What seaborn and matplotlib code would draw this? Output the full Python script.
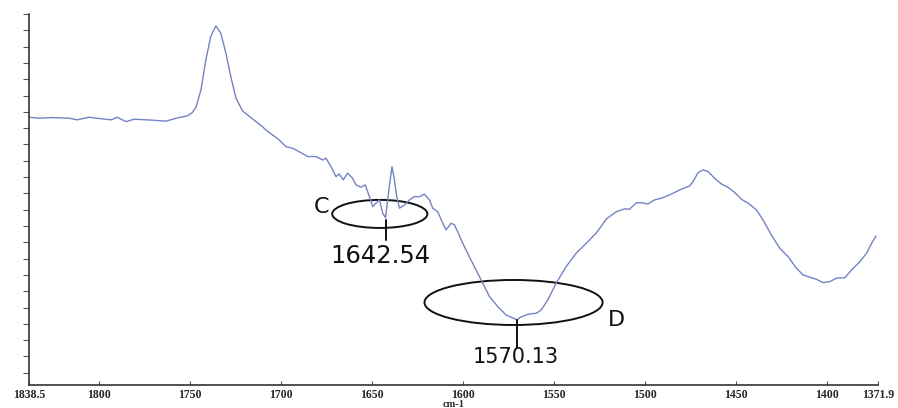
import numpy as np
import pandas as pd
import matplotlib
matplotlib.use("Agg")
import matplotlib.pyplot as plt
from matplotlib.patches import Ellipse
from matplotlib.ticker import MultipleLocator, FixedLocator
import seaborn as sns

# IR spectrum, wavenumber (cm-1) vs. relative transmittance (arbitrary units)
wavenumber = [
    1838.5, 1833.0, 1825.9, 1816.5, 1812.1, 1805.5, 1798.3, 1793.4, 1790.1, 1785.1,
    1780.7, 1770.8, 1763.1, 1757.6, 1751.6, 1748.8, 1746.6, 1744.0, 1741.3, 1738.6,
    1735.8, 1733.1, 1730.3, 1727.6, 1724.8, 1721.2, 1715.7, 1710.3, 1708.3, 1701.0,
    1697.3, 1693.7, 1689.1, 1685.4, 1680.8, 1677.1, 1675.3, 1672.5, 1669.8, 1668.0,
    1665.8, 1663.4, 1660.7, 1658.8, 1656.1, 1653.7, 1651.4, 1649.6, 1647.8, 1645.9,
    1644.1, 1642.54, 1641.4, 1640.0, 1639.0, 1637.7, 1636.4, 1634.9, 1632.2, 1629.4,
    1626.7, 1623.9, 1621.2, 1618.4, 1616.6, 1613.9, 1611.1, 1609.3, 1606.5, 1604.7,
    1602.9, 1600.1, 1596.5, 1592.8, 1589.1, 1585.4, 1580.8, 1576.3, 1570.13, 1568.9,
    1564.3, 1559.7, 1557.0, 1553.4, 1548.8, 1543.3, 1537.8, 1532.3, 1526.8, 1521.2,
    1515.7, 1511.1, 1508.4, 1504.7, 1502.0, 1498.4, 1494.7, 1491.0, 1486.4, 1480.9,
    1475.4, 1473.6, 1470.8, 1468.1, 1465.4, 1461.7, 1458.0, 1454.4, 1450.6, 1447.0,
    1443.3, 1438.7, 1435.1, 1430.5, 1425.9, 1421.3, 1416.7, 1413.1, 1409.4, 1405.7,
    1402.1, 1398.4, 1394.7, 1390.1, 1386.4, 1381.9, 1378.2, 1375.4, 1373.0,
]
transmittance = [
    15.67, 15.61, 15.65, 15.61, 15.51, 15.67, 15.57, 15.51, 15.67, 15.40,
    15.55, 15.49, 15.43, 15.61, 15.75, 15.94, 16.32, 17.35, 19.19, 20.62,
    21.27, 20.83, 19.60, 18.16, 16.86, 16.06, 15.57, 15.10, 14.89, 14.28,
    13.87, 13.77, 13.50, 13.26, 13.26, 13.05, 13.16, 12.64, 12.03, 12.19,
    11.83, 12.24, 11.93, 11.52, 11.38, 11.52, 10.80, 10.19, 10.40, 10.60,
    9.78, 9.50, 10.60, 11.83, 12.64, 11.83, 10.80, 10.09, 10.29, 10.60,
    10.80, 10.80, 10.95, 10.60, 10.09, 9.88, 9.17, 8.76, 9.17, 9.07,
    8.65, 7.94, 7.12, 6.31, 5.49, 4.67, 4.05, 3.54, 3.24, 3.38,
    3.59, 3.65, 3.85, 4.46, 5.49, 6.51, 7.33, 7.94, 8.56, 9.43,
    9.88, 10.05, 10.03, 10.43, 10.43, 10.35, 10.60, 10.70, 10.91, 11.21,
    11.46, 11.72, 12.27, 12.44, 12.34, 11.93, 11.58, 11.38, 11.05, 10.64,
    10.40, 9.99, 9.37, 8.45, 7.64, 7.12, 6.41, 6.00, 5.86, 5.73,
    5.53, 5.59, 5.80, 5.83, 6.31, 6.81, 7.33, 7.94, 8.39,
]

x_ticks = [1838.5, 1800, 1750, 1700, 1650, 1600, 1550, 1500, 1450, 1400, 1371.9]
x_tick_labels = ["1838.5", "1800", "1750", "1700", "1650", "1600",
                 "1550", "1500", "1450", "1400", "1371.9"]

peak_c = 1642.54
peak_d = 1570.13

sns.set_style("white")
plt.rcParams["font.family"] = ["DejaVu Sans"]

fig = plt.figure(figsize=(8.98, 4.08), dpi=100)
ax = fig.add_axes([29 / 898, 23 / 408, 849 / 898, 371 / 408])

df = pd.DataFrame({"wavenumber": wavenumber, "T": transmittance})
sns.lineplot(data=df, x="wavenumber", y="T", sort=False, ax=ax,
             color="#7482c6", linewidth=1.0)

ax.set_xlim(1838.5, 1371.9)
ax.set_ylim(-0.75, 22)

# axis styling
for s in ("top", "right"):
    ax.spines[s].set_visible(False)
for s in ("left", "bottom"):
    ax.spines[s].set_color("#333333")
    ax.spines[s].set_linewidth(1.2)

ax.xaxis.set_major_locator(FixedLocator(x_ticks))
ax.set_xticklabels(x_tick_labels, fontfamily="Liberation Serif",
                   fontweight="bold", fontsize=8.5)
ax.tick_params(axis="x", direction="in", length=3, width=0.8,
               color="#555555", pad=3, bottom=True)
ax.yaxis.set_major_locator(MultipleLocator(1))
ax.set_yticklabels([])
ax.tick_params(axis="y", direction="out", length=4, width=0.8,
               color="#555555", left=True)
ax.set_xlabel("cm-1", fontfamily="Liberation Serif", fontweight="bold",
              fontsize=7.5, labelpad=-1)
ax.set_ylabel("")

# peak markers
ell_c = Ellipse((1645.7, 9.74), 52.3, 1.72, fill=False,
                edgecolor="#111111", linewidth=1.4)
ell_d = Ellipse((1572.2, 4.31), 97.9, 2.76, fill=False,
                edgecolor="#111111", linewidth=1.4)
ax.add_patch(ell_c)
ax.add_patch(ell_d)

ax.plot([peak_c, peak_c], [9.37, 8.15], color="#111111", linewidth=1.4)
ax.plot([peak_d, peak_d], [3.24, 1.52], color="#111111", linewidth=1.4)

ax.text(peak_c + 3.0, 7.16, f"{peak_c:.2f}", ha="center", va="center",
        fontsize=17.5, color="#111111")
ax.text(peak_d + 1.0, 0.94, f"{peak_d:.2f}", ha="center", va="center",
        fontsize=15, color="#111111")
ax.text(1677.9, 10.17, "C", ha="center", va="center", fontsize=16,
        color="#111111")
ax.text(1515.5, 3.24, "D", ha="center", va="center", fontsize=16,
        color="#111111")

fig.savefig("out.png", dpi=100)
